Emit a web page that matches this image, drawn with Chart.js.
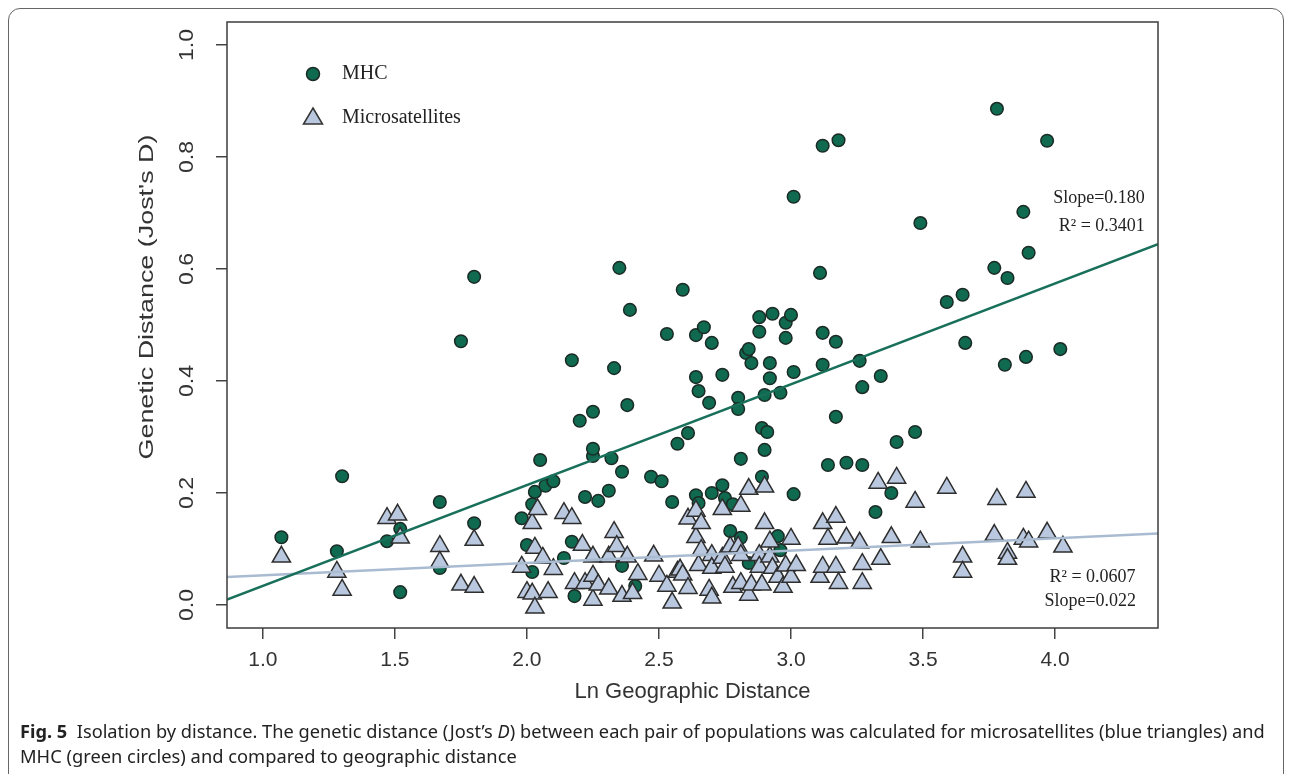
<!DOCTYPE html>
<html>
<head>
<meta charset="utf-8">
<script src="https://cdn.jsdelivr.net/npm/chart.js@4.4.1/dist/chart.umd.min.js"></script>
<style>
  html, body { margin: 0; padding: 0; background: #fff; }
  #wrap { position: relative; width: 1290px; height: 774px; overflow: hidden; }
  #frame { position: absolute; left: 8px; top: 8px; width: 1276px; height: 820px;
           border: 1px solid #666; border-radius: 12px; box-sizing: border-box; }
  canvas { position: absolute; left: 0; top: 0; }
  .cap { position: absolute; left: 20px; font-family: "Noto Sans", "Open Sans", sans-serif;
         font-size: 18px; line-height: 24px; color: #222; white-space: nowrap;
         transform-origin: 0 50%; }
  .cap b { font-weight: 700; }
</style>
</head>
<body>
<div id="wrap">
  <div id="frame"></div>
  <canvas id="chart" width="1290" height="774"></canvas>
  <div class="cap" id="cap1" style="top:719px"><b>Fig. 5</b>&nbsp; Isolation by distance. The genetic distance (Jost’s <i>D</i>) between each pair of populations was calculated for microsatellites (blue triangles) and</div>
  <div class="cap" id="cap2" style="top:744px">MHC (green circles) and compared to geographic distance</div>
</div>
<script>
// values
const mhcX = [1.07, 1.28, 1.30, 1.47, 1.52, 1.52, 1.67, 1.67, 1.75, 1.80, 1.80, 1.98, 2.00, 2.02, 2.02, 2.03,
  2.05, 2.07, 2.10, 2.14, 2.17, 2.17, 2.18, 2.20, 2.22, 2.25, 2.25, 2.25, 2.27, 2.31, 2.32, 2.33,
  2.35, 2.36, 2.36, 2.38, 2.39, 2.41, 2.47, 2.51, 2.53, 2.55, 2.57, 2.59, 2.61, 2.64, 2.64, 2.65,
  2.64, 2.65, 2.67, 2.69, 2.70, 2.70, 2.74, 2.74, 2.75, 2.77, 2.78, 2.80, 2.80, 2.81, 2.81, 2.83,
  2.84, 2.84, 2.85, 2.88, 2.88, 2.89, 2.89, 2.90, 2.90, 2.91, 2.92, 2.92, 2.93, 2.95, 2.96, 2.96,
  2.98, 2.98, 3.00, 3.01, 3.01, 3.01, 3.11, 3.12, 3.12, 3.12, 3.14, 3.17, 3.17, 3.18, 3.21, 3.26,
  3.27, 3.27, 3.32, 3.34, 3.38, 3.40, 3.47, 3.49, 3.59, 3.65, 3.66, 3.77, 3.78, 3.81, 3.82, 3.88,
  3.89, 3.90, 3.97, 4.02];
const mhcY = [0.121, 0.096, 0.230, 0.114, 0.136, 0.023, 0.184, 0.066, 0.471, 0.586, 0.146, 0.155, 0.107, 0.180, 0.059, 0.202,
  0.259, 0.213, 0.221, 0.084, 0.113, 0.437, 0.016, 0.329, 0.193, 0.266, 0.279, 0.345, 0.186, 0.204, 0.262, 0.423,
  0.602, 0.238, 0.070, 0.357, 0.527, 0.034, 0.229, 0.221, 0.484, 0.184, 0.288, 0.563, 0.307, 0.407, 0.482, 0.382,
  0.196, 0.182, 0.496, 0.361, 0.468, 0.200, 0.411, 0.214, 0.191, 0.132, 0.180, 0.370, 0.350, 0.261, 0.120, 0.450,
  0.457, 0.075, 0.432, 0.514, 0.488, 0.229, 0.316, 0.375, 0.277, 0.309, 0.405, 0.432, 0.520, 0.123, 0.379, 0.098,
  0.504, 0.477, 0.518, 0.416, 0.729, 0.198, 0.593, 0.820, 0.486, 0.429, 0.250, 0.470, 0.336, 0.830, 0.254, 0.436,
  0.389, 0.250, 0.166, 0.409, 0.200, 0.291, 0.309, 0.682, 0.541, 0.554, 0.468, 0.602, 0.886, 0.429, 0.584, 0.702,
  0.443, 0.629, 0.829, 0.457];

const microX = [1.07, 1.28, 1.30, 1.47, 1.51, 1.52, 1.67, 1.67, 1.75, 1.80, 1.80, 1.98, 2.00, 2.02, 2.02, 2.03,
  2.03, 2.04, 2.06, 2.08, 2.10, 2.14, 2.17, 2.18, 2.21, 2.22, 2.25, 2.25, 2.25, 2.27, 2.31, 2.31,
  2.33, 2.34, 2.36, 2.38, 2.40, 2.42, 2.48, 2.50, 2.53, 2.55, 2.57, 2.58, 2.59, 2.61, 2.61, 2.64,
  2.64, 2.65, 2.66, 2.66, 2.69, 2.70, 2.70, 2.70, 2.74, 2.74, 2.75, 2.77, 2.78, 2.80, 2.81, 2.81,
  2.81, 2.84, 2.84, 2.85, 2.88, 2.88, 2.89, 2.90, 2.90, 2.92, 2.92, 2.93, 2.95, 2.97, 2.98, 3.00,
  3.00, 3.02, 3.11, 3.12, 3.12, 3.14, 3.17, 3.17, 3.18, 3.21, 3.26, 3.27, 3.27, 3.33, 3.34, 3.38,
  3.40, 3.47, 3.49, 3.59, 3.65, 3.65, 3.77, 3.78, 3.82, 3.82, 3.88, 3.89, 3.90, 3.97, 4.03];
const microY = [0.086, 0.059, 0.027, 0.155, 0.161, 0.120, 0.105, 0.077, 0.036, 0.032, 0.116, 0.068, 0.023, 0.020, 0.146, -0.005,
  0.102, 0.171, 0.084, 0.023, 0.064, 0.164, 0.155, 0.039, 0.107, 0.039, 0.086, 0.052, 0.009, 0.036, 0.029, 0.086,
  0.130, 0.105, 0.016, 0.086, 0.021, 0.055, 0.088, 0.052, 0.034, 0.004, 0.059, 0.063, 0.054, 0.154, 0.030, 0.168,
  0.121, 0.071, 0.146, 0.098, 0.027, 0.089, 0.066, 0.013, 0.171, 0.084, 0.068, 0.104, 0.032, 0.104, 0.177, 0.089,
  0.039, 0.207, 0.018, 0.036, 0.089, 0.068, 0.036, 0.211, 0.146, 0.086, 0.113, 0.066, 0.050, 0.032, 0.070, 0.118,
  0.050, 0.071, 0.050, 0.146, 0.068, 0.118, 0.157, 0.068, 0.039, 0.120, 0.111, 0.073, 0.039, 0.218, 0.082, 0.121,
  0.227, 0.184, 0.113, 0.209, 0.086, 0.059, 0.125, 0.189, 0.093, 0.082, 0.118, 0.202, 0.113, 0.129, 0.104];

// fitted lines: [intercept, slope]
const mhcFit = [-0.146, 0.180];
const microFit = [0.031, 0.022];

const xRange = [0.864, 4.39];
const yRange = [-0.041, 1.041];
const xTicks = [1.0, 1.5, 2.0, 2.5, 3.0, 3.5, 4.0];
const yTicks = [0.0, 0.2, 0.4, 0.6, 0.8, 1.0];

const legendItems = ["MHC", "Microsatellites"];
const yTitle = "Genetic Distance (Jost's D)";
// annotation text, right edge anchored at data [x, y]
const notes = [
  ["Slope=0.180", 4.34, 0.727],
  ["R² = 0.3401", 4.34, 0.677],
  ["R² = 0.0607", 4.305, 0.050],
  ["Slope=0.022", 4.307, 0.007]
];

const GREEN = "#0f6a50";
const BLUE = "#b9c8df";
const SANS = "'Liberation Sans', Arial, sans-serif";
const SERIF = "'Liberation Serif', 'Times New Roman', serif";

function toPoints(xs, ys) {
  return xs.map((x, i) => ({ x: x, y: ys[i] }));
}
function fitPoints(fit) {
  return xRange.map(x => ({ x: x, y: fit[0] + fit[1] * x }));
}

const extras = {
  id: "extras",
  afterDraw(chart) {
    const ctx = chart.ctx;
    const a = chart.chartArea;
    const ys = chart.scales.y;
    const xs = chart.scales.x;
    ctx.save();
    // box around the plot
    ctx.strokeStyle = "#3c3c3c";
    ctx.lineWidth = 1.5;
    ctx.strokeRect(a.left, a.top, a.right - a.left, a.bottom - a.top);

    // rotated y tick labels (R style)
    ctx.fillStyle = "#333";
    ctx.font = "21px " + SANS;
    ctx.textAlign = "center";
    ctx.textBaseline = "middle";
    ys.ticks.forEach(t => {
      const py = ys.getPixelForValue(t.value);
      ctx.save();
      ctx.translate(a.left - 40, py);
      ctx.rotate(-Math.PI / 2);
      ctx.scale(1.1, 0.95);
      ctx.fillText(t.value.toFixed(1), 0, 0);
      ctx.restore();
    });

    // y axis title, stretched along its length like the figure
    ctx.save();
    ctx.font = "21px " + SANS;
    const tw = ctx.measureText(yTitle).width;
    ctx.translate(a.left - 80, ys.getPixelForValue(0.55));
    ctx.rotate(-Math.PI / 2);
    ctx.scale(325 / tw, 0.95);
    ctx.fillText(yTitle, 0, 0);
    ctx.restore();

    // legend
    const lx = a.left + 86, ly = a.top + 52;
    ctx.beginPath();
    ctx.arc(lx, ly, 6.5, 0, Math.PI * 2);
    ctx.fillStyle = GREEN;
    ctx.fill();
    ctx.lineWidth = 1.5;
    ctx.strokeStyle = "#1b2b25";
    ctx.stroke();
    const ty = ly + 44;
    ctx.beginPath();
    ctx.moveTo(lx, ty - 10);
    ctx.lineTo(lx + 9.5, ty + 6);
    ctx.lineTo(lx - 9.5, ty + 6);
    ctx.closePath();
    ctx.fillStyle = BLUE;
    ctx.fill();
    ctx.strokeStyle = "#333";
    ctx.stroke();
    ctx.fillStyle = "#222";
    ctx.font = "20px " + SERIF;
    ctx.textAlign = "left";
    ctx.fillText(legendItems[0], lx + 29, ly);
    ctx.fillText(legendItems[1], lx + 29, ty);

    // slope / R2 notes
    ctx.font = "18px " + SERIF;
    ctx.textAlign = "right";
    notes.forEach(n => {
      ctx.fillText(n[0], xs.getPixelForValue(n[1]), ys.getPixelForValue(n[2]));
    });
    ctx.restore();
  }
};

new Chart(document.getElementById("chart"), {
  type: "scatter",
  data: {
    datasets: [
      {
        label: "MHC fit",
        data: fitPoints(mhcFit),
        showLine: true,
        borderColor: "#18705a",
        borderWidth: 2.5,
        pointRadius: 0,
        order: 0
      },
      {
        label: "Microsatellites fit",
        data: fitPoints(microFit),
        showLine: true,
        borderColor: "#a9bbd1",
        borderWidth: 2.5,
        pointRadius: 0,
        order: 0
      },
      {
        label: "Microsatellites",
        data: toPoints(microX, microY),
        pointStyle: "triangle",
        pointRadius: 10.5,
        backgroundColor: BLUE,
        borderColor: "#2e2e2e",
        borderWidth: 1.5,
        order: 1
      },
      {
        label: "MHC",
        data: toPoints(mhcX, mhcY),
        pointStyle: "circle",
        pointRadius: 6.3,
        backgroundColor: GREEN,
        borderColor: "#1b2b25",
        borderWidth: 1.5,
        order: 2
      }
    ]
  },
  options: {
    responsive: false,
    animation: false,
    layout: { padding: { left: 0, right: 132, top: 22, bottom: 0 } },
    plugins: { legend: { display: false }, tooltip: { enabled: false } },
    scales: {
      x: {
        type: "linear",
        min: xRange[0],
        max: xRange[1],
        afterBuildTicks: s => { s.ticks = xTicks.map(v => ({ value: v })); },
        afterFit: s => { s.height = 146; },
        border: { display: false },
        grid: { drawOnChartArea: false, drawTicks: true, tickLength: 11, color: "#444", lineWidth: 1.5 },
        ticks: {
          color: "#333",
          font: { family: SANS, size: 21 },
          padding: 9,
          maxRotation: 0,
          callback: v => Number(v).toFixed(1)
        },
        title: {
          display: true,
          text: "Ln Geographic Distance",
          color: "#333",
          font: { family: SANS, size: 22 },
          padding: { top: 0, bottom: 69 }
        }
      },
      y: {
        type: "linear",
        min: yRange[0],
        max: yRange[1],
        afterBuildTicks: s => { s.ticks = yTicks.map(v => ({ value: v })); },
        afterFit: s => { s.width = 227; },
        border: { display: false },
        grid: { drawOnChartArea: false, drawTicks: true, tickLength: 11, color: "#444", lineWidth: 1.5 },
        ticks: { display: false },
        title: { display: false }
      }
    }
  },
  plugins: [extras]
});

// squeeze the caption lines to the width they take in the figure
[["cap1", 1245], ["cap2", 497]].forEach(([id, w]) => {
  const el = document.getElementById(id);
  el.style.transform = "scaleX(" + (w / el.offsetWidth) + ")";
});
</script>
</body>
</html>
